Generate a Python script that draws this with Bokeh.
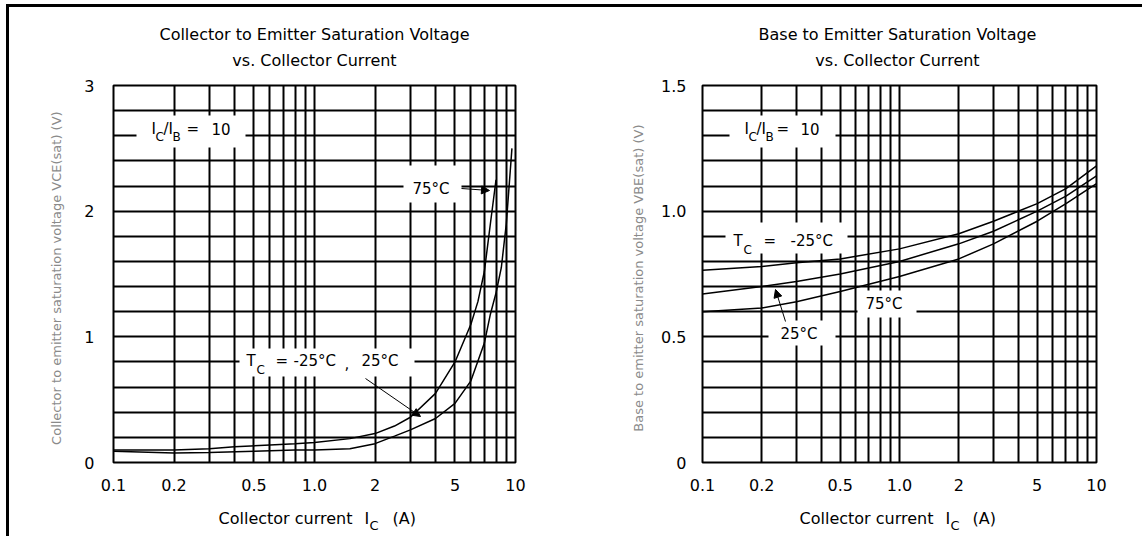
import math
from bokeh.plotting import figure
from bokeh.layouts import row, column
from bokeh.models import FixedTicker, Label, BoxAnnotation, Arrow, NormalHead, Range1d
from bokeh.embed import file_html
from bokeh.resources import INLINE

# ---------------- data ----------------
# Left chart: VCE(sat) vs IC  (IC/IB = 10)
ic_vce_75 = [0.1, 0.2, 0.3, 0.4, 0.6, 0.8, 1.0, 1.5, 2.0, 2.5, 3.0, 4.0, 5.0, 6.0, 6.5, 7.0, 7.5, 8.0]
vce_75 = [0.10, 0.10, 0.11, 0.125, 0.14, 0.15, 0.16, 0.19, 0.23, 0.29, 0.36, 0.55, 0.80, 1.10, 1.28, 1.52, 1.90, 2.25]
ic_vce_25 = [0.1, 0.2, 0.3, 0.5, 0.8, 1.0, 1.5, 2.0, 2.5, 3.0, 4.0, 5.0, 6.0, 7.0, 7.5, 8.0, 8.5, 9.0, 9.6]
vce_25 = [0.09, 0.075, 0.08, 0.09, 0.10, 0.10, 0.11, 0.15, 0.21, 0.26, 0.35, 0.47, 0.65, 0.95, 1.18, 1.35, 1.55, 1.90, 2.50]

# Right chart: VBE(sat) vs IC  (IC/IB = 10)
ic_vbe = [0.1, 0.2, 0.3, 0.5, 1.0, 2.0, 3.0, 5.0, 7.0, 10.0]
vbe_m25 = [0.765, 0.78, 0.795, 0.81, 0.85, 0.91, 0.96, 1.03, 1.09, 1.18]
vbe_25 = [0.67, 0.70, 0.72, 0.75, 0.80, 0.87, 0.92, 1.00, 1.06, 1.14]
vbe_75 = [0.60, 0.615, 0.64, 0.68, 0.74, 0.81, 0.87, 0.96, 1.03, 1.11]

x_tick_vals = [0.1, 0.2, 0.5, 1.0, 2.0, 5.0, 10.0]
x_tick_text = ["0.1", "0.2", "0.5", "1.0", "2", "5", "10"]
x_grid_vals = [0.1, 0.2, 0.3, 0.4, 0.5, 0.6, 0.7, 0.8, 0.9, 1.0, 2.0, 3.0, 4.0, 5.0, 6.0, 7.0, 8.0, 9.0, 10.0]
yl_tick_vals = [0, 1, 2, 3]
yl_tick_text = ["0", "1", "2", "3"]
yl_grid_vals = [0, 0.2, 0.4, 0.6, 0.8, 1.0, 1.2, 1.4, 1.6, 1.8, 2.0, 2.2, 2.4, 2.6, 2.8, 3.0]
yr_tick_vals = [0, 0.5, 1.0, 1.5]
yr_tick_text = ["0", "0.5", "1.0", "1.5"]
yr_grid_vals = [0, 0.1, 0.2, 0.3, 0.4, 0.5, 0.6, 0.7, 0.8, 0.9, 1.0, 1.1, 1.2, 1.3, 1.4, 1.5]

titles_left = ["Collector to Emitter Saturation Voltage", "vs. Collector Current"]
titles_right = ["Base to Emitter Saturation Voltage", "vs. Collector Current"]

FONT = "DejaVu Sans"
OX, OY = 9, 7          # page position of the layout content
W = 1133               # header/footer width (top border runs to the window edge)

# page-pixel -> data helpers (chart frames: top 85, bottom 462)
def L_map(px, py):
    return 0.1 * 10 ** (2 * (px - 113) / 402), 3.0 * (462 - py) / 377

def R_map(px, py):
    return 0.1 * 10 ** (2 * (px - 702) / 394), 1.5 * (462 - py) / 377

HEAD_H = 68   # page y 7..75
FOOT_H = 43   # page y 492..535

def H_map(px, py):
    return px - OX, (OY + HEAD_H) - py

def F_map(px, py):
    return px - OX, (492 + FOOT_H) - py


def make_fig(ymax, fw, bl, br, yt_vals, yt_text, yg_vals, ystand, ylabel, lstand):
    p = figure(x_axis_type="log", x_range=Range1d(0.1, 10), y_range=Range1d(0, ymax),
               frame_width=fw, frame_height=377, min_border_left=bl, min_border_right=br,
               min_border_top=10, min_border_bottom=30,
               output_backend="svg", toolbar_location=None,
               background_fill_color="white", border_fill_color="white")
    p.outline_line_color = "black"
    p.outline_line_width = 2
    p.xaxis.ticker = FixedTicker(ticks=x_tick_vals)
    p.xaxis.major_label_overrides = dict(zip(x_tick_vals, x_tick_text))
    p.yaxis.ticker = FixedTicker(ticks=yt_vals)
    p.yaxis.major_label_overrides = dict(zip(yt_vals, yt_text))
    for ax in (p.xaxis[0], p.yaxis[0]):
        ax.axis_line_color = None
        ax.major_tick_line_color = None
        ax.minor_tick_line_color = None
        ax.major_label_text_font = FONT
        ax.major_label_text_font_size = "16px"
        ax.major_label_text_color = "black"
    p.xaxis.major_label_standoff = 10
    p.yaxis.major_label_standoff = ystand
    p.yaxis.axis_label = ylabel
    p.yaxis.axis_label_text_font = FONT
    p.yaxis.axis_label_text_font_size = "13px"
    p.yaxis.axis_label_text_font_style = "normal"
    p.yaxis.axis_label_text_color = "#8a8a8a"
    p.yaxis.axis_label_standoff = lstand
    p.xgrid.ticker = FixedTicker(ticks=x_grid_vals)
    p.ygrid.ticker = FixedTicker(ticks=yg_vals)
    for g in (p.xgrid[0], p.ygrid[0]):
        g.grid_line_color = "black"
        g.grid_line_width = 2
        g.grid_line_alpha = 1.0
    return p


def plain_fig(h):
    p = figure(width=W, height=h, x_range=Range1d(0, W), y_range=Range1d(0, h),
               min_border=0, x_axis_location=None, y_axis_location=None,
               output_backend="svg", toolbar_location=None,
               background_fill_color="white", border_fill_color="white")
    p.outline_line_color = None
    p.grid.visible = False
    return p


def put(p, m, s, px, py, size, align="left", color="black", angle=0.0):
    x, y = m(px, py)
    p.add_layout(Label(x=x, y=y, text=s, text_font=FONT, text_font_size=f"{size}px",
                       text_align=align, text_baseline="middle", text_color=color, angle=angle))


def box(p, m, x0, x1, y0, y1):
    l, b = m(x0, y1)
    r, t = m(x1, y0)
    p.add_layout(BoxAnnotation(left=l, right=r, bottom=b, top=t, fill_color="white",
                               fill_alpha=1.0, line_color=None))


def arrow(p, m, x0, y0, x1, y1):
    xs, ys = m(x0, y0)
    xe, ye = m(x1, y1)
    p.add_layout(Arrow(end=NormalHead(size=8, fill_color="black", line_color="black"),
                       x_start=xs, y_start=ys, x_end=xe, y_end=ye,
                       line_color="black", line_width=1))


# ---------------- header (titles) ----------------
head = plain_fig(HEAD_H)
put(head, H_map, titles_left[0], 314, 34, 16, "center")
put(head, H_map, titles_left[1], 314, 60, 16, "center")
put(head, H_map, titles_right[0], 897, 34, 16, "center")
put(head, H_map, titles_right[1], 897, 60, 16, "center")

# ---------------- left chart ----------------
p1 = make_fig(3, 402, 104, 77, yl_tick_vals, yl_tick_text, yl_grid_vals, 13,
              "Collector to emitter saturation voltage  VCE(sat)  (V)", 17)
p1.line(ic_vce_75, vce_75, line_color="black", line_width=1.5)
p1.line(ic_vce_25, vce_25, line_color="black", line_width=1.5)

box(p1, L_map, 136, 245, 115, 147)
put(p1, L_map, "I", 151, 128, 15)
put(p1, L_map, "C", 155, 136, 12)
put(p1, L_map, "/I", 163, 128, 15)
put(p1, L_map, "B", 172, 136, 12)
put(p1, L_map, "=", 186, 128, 15)
put(p1, L_map, "10", 211, 128, 15)

box(p1, L_map, 403, 461, 165, 202)
put(p1, L_map, "75°C", 412, 188, 15)
arrow(p1, L_map, 461, 188, 489, 190)

box(p1, L_map, 239, 414, 348, 376)
put(p1, L_map, "T", 246, 360, 15)
put(p1, L_map, "C", 256, 369, 12)
put(p1, L_map, "=", 275, 360, 15)
put(p1, L_map, "-25°C", 293, 360, 15)
put(p1, L_map, ",", 344, 362, 15)
put(p1, L_map, "25°C", 361, 360, 15)
arrow(p1, L_map, 365, 378, 420, 416)

# ---------------- right chart ----------------
p2 = make_fig(1.5, 394, 110, 33, yr_tick_vals, yr_tick_text, yr_grid_vals, 10,
              "Base to emitter saturation voltage  VBE(sat)  (V)", 12)
p2.line(ic_vbe, vbe_m25, line_color="black", line_width=1.5)
p2.line(ic_vbe, vbe_25, line_color="black", line_width=1.5)
p2.line(ic_vbe, vbe_75, line_color="black", line_width=1.5)

box(p2, R_map, 729, 835, 115, 147)
put(p2, R_map, "I", 744, 128, 15)
put(p2, R_map, "C", 748, 136, 12)
put(p2, R_map, "/I", 756, 128, 15)
put(p2, R_map, "B", 765, 136, 12)
put(p2, R_map, "=", 776, 128, 15)
put(p2, R_map, "10", 800, 128, 15)

box(p2, R_map, 725, 847, 222, 253)
put(p2, R_map, "T", 733, 240, 15)
put(p2, R_map, "C", 743, 249, 12)
put(p2, R_map, "=", 763, 240, 15)
put(p2, R_map, "-25°C", 790, 240, 15)

box(p2, R_map, 768, 835, 320, 345)
put(p2, R_map, "25°C", 780, 333, 15)
arrow(p2, R_map, 785, 321, 775, 289)

box(p2, R_map, 857, 916, 290, 317)
put(p2, R_map, "75°C", 865, 303, 15)

# ---------------- footer (x-axis labels with subscripts) ----------------
foot = plain_fig(FOOT_H)
put(foot, F_map, "Collector current", 285, 517, 16, "center")
put(foot, F_map, "I", 364, 517, 16)
put(foot, F_map, "C", 369, 524, 13)
put(foot, F_map, "(A)", 392, 517, 16)
put(foot, F_map, "Collector current", 866, 517, 16, "center")
put(foot, F_map, "I", 945, 517, 16)
put(foot, F_map, "C", 950, 524, 13)
put(foot, F_map, "(A)", 972, 517, 16)

layout = column(head, row(p1, p2), foot,
                styles={"border-left": "3px solid black", "border-top": "3px solid black",
                        "margin-left": "6px", "margin-top": "4px"})

open("out.html", "w").write(file_html(layout, INLINE))
